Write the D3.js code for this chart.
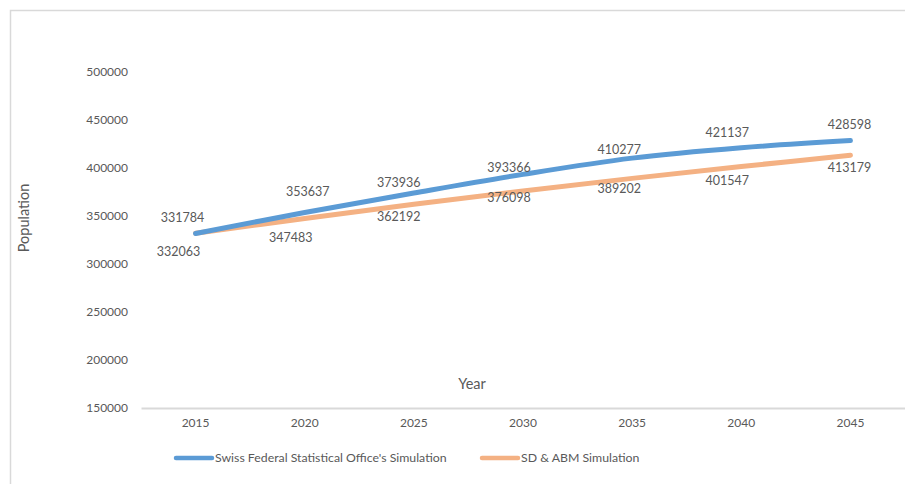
<!DOCTYPE html>
<html>
<head>
<meta charset="utf-8">
<script src="https://cdn.jsdelivr.net/npm/d3@7"></script>
<style>
  html, body { margin: 0; padding: 0; background: #fff; }
  svg { display: block; }
  text { font-family: Lato, "Open Sans", sans-serif; fill: #595959; }
</style>
</head>
<body>
<svg id="chart" width="905" height="484"></svg>
<script>
const years = ["2015", "2020", "2025", "2030", "2035", "2040", "2045"];
const sfsoValues = [331784, 353637, 373936, 393366, 410277, 421137, 428598];
const sdAbmValues = [332063, 347483, 362192, 376098, 389202, 401547, 413179];
const yTicks = [150000, 200000, 250000, 300000, 350000, 400000, 450000, 500000];
const seriesNames = ["Swiss Federal Statistical Office's Simulation", "SD & ABM Simulation"];

// label offsets (layout only)
const sfsoLabelOffsets = [[-13, -16], [3, -21], [-15, -10], [-14, -7], [-13, -9], [-14, -15], [-1, -16]];
const sdLabelOffsets = [[-17, 18], [-14, 19], [-15, 12], [-14, 7], [-13, 10], [-14, 14], [-1, 12]];

const svg = d3.select("#chart");
const colors = ["#5B9BD5", "#F4B183"];

// frame
svg.append("path")
  .attr("d", "M10.5,484 L10.5,10.5 L905,10.5")
  .attr("fill", "none").attr("stroke", "#d9d9d9").attr("stroke-width", 1.5);

const x = d3.scaleBand().domain(years).range([141, 905]);
const y = d3.scaleLinear().domain([150000, 500000]).range([408, 72]);

// y axis labels
const yAxis = d3.axisLeft(y).tickValues(yTicks).tickSize(0).tickPadding(0).tickFormat(d => d);
const gy = svg.append("g").attr("transform", "translate(128,0)").call(yAxis);
gy.select(".domain").remove();
gy.selectAll("text").attr("font-size", 12).style("font-family", "Lato, sans-serif").attr("fill", "#595959");

// x axis
const xAxis = d3.axisBottom(x).tickSize(0).tickPadding(10);
const gx = svg.append("g").attr("transform", "translate(0,408)").call(xAxis);
gx.select(".domain").attr("stroke", "#d9d9d9").attr("stroke-width", 2);
gx.selectAll("text").attr("font-size", 12).style("font-family", "Lato, sans-serif").attr("fill", "#595959");

// axis titles
svg.append("text").attr("x", 472).attr("y", 389).attr("text-anchor", "middle")
  .attr("font-size", 14.5).text("Year");
svg.append("text").attr("transform", "translate(29,218) rotate(-90)").attr("text-anchor", "middle")
  .attr("font-size", 14.5).text("Population");

const cx = d => x(d) + x.bandwidth() / 2;
const line = d3.line().x(d => cx(d.year)).y(d => y(d.value)).curve(d3.curveCardinal.tension(0));

const series = [
  { name: seriesNames[0], values: sfsoValues, offsets: sfsoLabelOffsets, color: colors[0] },
  { name: seriesNames[1], values: sdAbmValues, offsets: sdLabelOffsets, color: colors[1] }
];

[series[1], series[0]].forEach(s => {
  const pts = years.map((yr, i) => ({ year: yr, value: s.values[i] }));
  svg.append("path").datum(pts)
    .attr("d", line).attr("fill", "none").attr("stroke", s.color)
    .attr("stroke-width", 5).attr("stroke-linecap", "round").attr("stroke-linejoin", "round");
});

series.forEach(s => {
  years.forEach((yr, i) => {
    svg.append("text")
      .attr("x", cx(yr) + s.offsets[i][0])
      .attr("y", y(s.values[i]) + s.offsets[i][1])
      .attr("dy", "0.35em")
      .attr("text-anchor", "middle")
      .attr("font-size", 12.5)
      .attr("fill", "#404040")
      .text(s.values[i]);
  });
});

// legend
const legendItems = [
  { name: seriesNames[0], color: colors[0], x: 176 },
  { name: seriesNames[1], color: colors[1], x: 482 }
];
legendItems.forEach(l => {
  svg.append("line").attr("x1", l.x).attr("x2", l.x + 36).attr("y1", 458).attr("y2", 458)
    .attr("stroke", l.color).attr("stroke-width", 4.5).attr("stroke-linecap", "round");
  svg.append("text").attr("x", l.x + 39).attr("y", 458).attr("dy", "0.35em")
    .attr("font-size", 12.3).text(l.name);
});
</script>
</body>
</html>
